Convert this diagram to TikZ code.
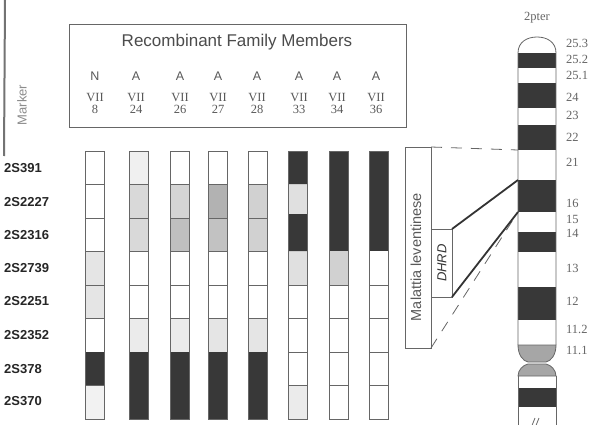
\documentclass[tikz,border=0pt]{standalone}
\usepackage{fontspec}
\setmainfont{Liberation Serif}
\setsansfont{Liberation Sans}
\begin{document}
\begin{tikzpicture}[x=1pt, y=-1pt,
        frame/.style={draw=black!60, line width=0.8pt},
        bar/.style={draw=black!60, line width=0.8pt},
        dark/.style={fill=black!78},
        title/.style={font=\sffamily\fontsize{17}{19}\selectfont, text=black!70, inner sep=0pt},
        status/.style={font=\sffamily\fontsize{12.5}{14}\selectfont, text=black!65, inner sep=0pt},
        member/.style={font=\fontsize{12.5}{12}\selectfont, text=black!65, align=center, inner sep=0pt},
        marker/.style={font=\sffamily\bfseries\fontsize{13}{15}\selectfont, text=black!85, anchor=west, inner sep=0pt},
        bandlabel/.style={font=\fontsize{12.5}{14}\selectfont, text=black!60, anchor=west, inner sep=0pt},
        link/.style={draw=black!80, line width=1.8pt},
        guide/.style={draw=black!60, line width=0.8pt, dash pattern=on 11pt off 9pt}]
        \fill[white] (0,0) rectangle (594,425);
        \useasboundingbox (0,0) rectangle (594,425);
        \clip (0,0) rectangle (594,425);
        \draw[black!55, line width=2pt] (5,0) -- (4,156);

        % header with the family members
        \draw[frame] (69,24) rectangle (406,127);
        \node[title] (title) at (237,42) {Recombinant Family Members};
        \node[status] (s8) at (95,76) {N};
        \node[status] (s24) at (136,76) {A};
        \node[status] (s26) at (180,76) {A};
        \node[status] (s27) at (218,76) {A};
        \node[status] (s28) at (257,76) {A};
        \node[status] (s33) at (299,76) {A};
        \node[status] (s34) at (337,76) {A};
        \node[status] (s36) at (376,76) {A};
        \node[member] (p8) at (95,103) {VII\\8};
        \node[member] (p24) at (136,103) {VII\\24};
        \node[member] (p26) at (180,103) {VII\\26};
        \node[member] (p27) at (218,103) {VII\\27};
        \node[member] (p28) at (257,103) {VII\\28};
        \node[member] (p33) at (299,103) {VII\\33};
        \node[member] (p34) at (337,103) {VII\\34};
        \node[member] (p36) at (376,103) {VII\\36};
        \node[font=\sffamily\fontsize{13}{15}\selectfont, text=black!45, rotate=90] (markerhead) at (22,105) {Marker};

        % marker names, one per row
        \node[marker] (d391) at (4,168) {2S391};
        \node[marker] (d2227) at (4,202) {2S2227};
        \node[marker] (d2316) at (4,235) {2S2316};
        \node[marker] (d2739) at (4,268) {2S2739};
        \node[marker] (d2251) at (4,301) {2S2251};
        \node[marker] (d2352) at (4,335) {2S2352};
        \node[marker] (d378) at (4,369) {2S378};
        \node[marker] (d370) at (4,401) {2S370};

        % haplotype bars from left to right
        \fill[black!10] (85,251) rectangle (104,318);
        \fill[black!5] (85,385) rectangle (104,419);
        \draw[bar] (85,184) -- ++(19,0) (85,218) -- ++(19,0) (85,251) -- ++(19,0) (85,285) -- ++(19,0) (85,318) -- ++(19,0) (85,385) -- ++(19,0);
        \fill[dark] (85,352) rectangle (104,385);
        \draw[bar] (85,151) rectangle (104,419);

        \fill[black!6] (129,151) rectangle (148,184);
        \fill[black!15] (129,184) rectangle (148,251);
        \fill[black!8] (129,318) rectangle (148,352);
        \draw[bar] (129,184) -- ++(19,0) (129,218) -- ++(19,0) (129,251) -- ++(19,0) (129,285) -- ++(19,0) (129,318) -- ++(19,0);
        \fill[dark] (129,352) rectangle (148,419);
        \draw[bar] (129,151) rectangle (148,419);

        \fill[black!17] (170,184) rectangle (189,218);
        \fill[black!25] (170,218) rectangle (189,251);
        \fill[black!8] (170,318) rectangle (189,352);
        \draw[bar] (170,184) -- ++(19,0) (170,218) -- ++(19,0) (170,251) -- ++(19,0) (170,285) -- ++(19,0) (170,318) -- ++(19,0);
        \fill[dark] (170,352) rectangle (189,419);
        \draw[bar] (170,151) rectangle (189,419);

        \fill[black!30] (208,184) rectangle (227,218);
        \fill[black!24] (208,218) rectangle (227,251);
        \fill[black!10] (208,318) rectangle (227,352);
        \draw[bar] (208,184) -- ++(19,0) (208,218) -- ++(19,0) (208,251) -- ++(19,0) (208,285) -- ++(19,0) (208,318) -- ++(19,0);
        \fill[dark] (208,352) rectangle (227,419);
        \draw[bar] (208,151) rectangle (227,419);

        \fill[black!18] (248,184) rectangle (267,251);
        \fill[black!10] (248,318) rectangle (267,352);
        \draw[bar] (248,184) -- ++(19,0) (248,218) -- ++(19,0) (248,251) -- ++(19,0) (248,285) -- ++(19,0) (248,318) -- ++(19,0);
        \fill[dark] (248,352) rectangle (267,419);
        \draw[bar] (248,151) rectangle (267,419);

        \fill[black!12] (288,184) rectangle (307,214);
        \fill[black!12] (288,251) rectangle (307,285);
        \fill[black!8] (288,385) rectangle (307,419);
        \draw[bar] (288,285) -- ++(19,0) (288,318) -- ++(19,0) (288,352) -- ++(19,0) (288,385) -- ++(19,0);
        \fill[dark] (288,151) rectangle (307,184) (288,214) rectangle (307,251);
        \draw[bar] (288,151) rectangle (307,419);

        \fill[black!18] (329,251) rectangle (348,285);
        \draw[bar] (329,285) -- ++(19,0) (329,318) -- ++(19,0) (329,352) -- ++(19,0) (329,385) -- ++(19,0);
        \fill[dark] (329,151) rectangle (348,251);
        \draw[bar] (329,151) rectangle (348,419);

        \draw[bar] (369,285) -- ++(19,0) (369,318) -- ++(19,0) (369,352) -- ++(19,0) (369,385) -- ++(19,0);
        \fill[dark] (369,151) rectangle (388,251);
        \draw[bar] (369,151) rectangle (388,419);

        % disease interval boxes
        \draw[frame] (405,147) rectangle (431,348);
        \node[font=\sffamily\fontsize{14.5}{16}\selectfont, text=black!65, rotate=90] (ml) at (416,257) {Malattia leventinese};
        \draw[frame] (431,229) rectangle (452,297);
        \node[font=\sffamily\itshape\fontsize{13}{15}\selectfont, text=black!80, rotate=90] (dhrd) at (442,263) {DHRD};
        \coordinate (mltop) at (431,147);
        \coordinate (mlbot) at (431,348);
        \coordinate (dhrdtop) at (452,229);
        \coordinate (dhrdbot) at (452,297);

        % chromosome 2 ideogram, p arm
        \fill[black!78] (518,53) rectangle (556,68);
        \fill[black!78] (518,83) rectangle (556,108);
        \fill[black!78] (518,125) rectangle (556,150);
        \fill[black!78] (518,180) rectangle (556,212);
        \fill[black!78] (518,232) rectangle (556,252);
        \fill[black!78] (518,287) rectangle (556,320);
        \draw[frame, fill=black!35] (518,345) .. controls (518,355) and (523,361) .. (528,362) -- (546,362) .. controls (551,361) and (556,355) .. (556,345) -- cycle;
        \draw[frame] (518,345) -- (518,53) .. controls (518,42) and (527,37) .. (537,37) .. controls (547,37) and (556,42) .. (556,53) -- (556,345);
        % q arm
        \fill[black!78] (518,388) rectangle (556,407);
        \draw[frame, fill=black!35] (518,376) .. controls (518,370) and (523,365) .. (528,364) -- (546,364) .. controls (551,365) and (556,370) .. (556,376) -- cycle;
        \draw[frame] (518,376) -- (518,430) (556,376) -- (556,430);
        \draw[frame] (531,428) -- (535,418) (535,428) -- (539,418);
        \coordinate (top16) at (518,180);
        \coordinate (bot16) at (518,212);
        \coordinate (top22) at (518,150);

        % band labels
        \node[font=\fontsize{12.5}{14}\selectfont, text=black!60, inner sep=0pt] (pter) at (537,18) {2pter};
        \node[bandlabel] (b253) at (566,43) {25.3};
        \node[bandlabel] (b252) at (566,59) {25.2};
        \node[bandlabel] (b251) at (566,75) {25.1};
        \node[bandlabel] (b24) at (566,97) {24};
        \node[bandlabel] (b23) at (566,115) {23};
        \node[bandlabel] (b22) at (566,137) {22};
        \node[bandlabel] (b21) at (566,162) {21};
        \node[bandlabel] (b16) at (566,203) {16};
        \node[bandlabel] (b15) at (566,219) {15};
        \node[bandlabel] (b14) at (566,233) {14};
        \node[bandlabel] (b13) at (566,268) {13};
        \node[bandlabel] (b12) at (566,301) {12};
        \node[bandlabel] (b112) at (566,329) {11.2};
        \node[bandlabel] (b111) at (566,350) {11.1};

        % lines onto the chromosome
        \draw[guide] (mltop) -- (top22);
        \draw[guide] (mlbot) -- (bot16);
        \draw[link] (dhrdtop) -- (top16);
        \draw[link] (dhrdbot) -- (bot16);
    \end{tikzpicture}
\end{document}
